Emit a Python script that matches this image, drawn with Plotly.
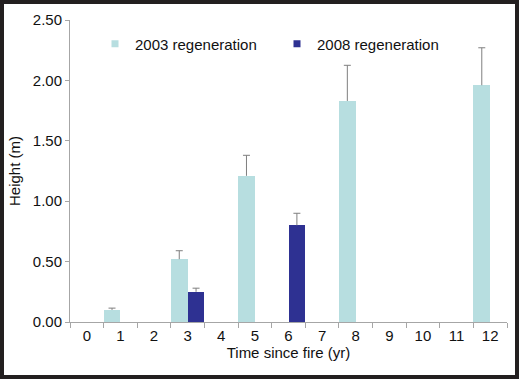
import plotly.graph_objects as go

years = [str(i) for i in range(13)]
h2003 = [None, 0.10, None, 0.52, None, 1.21, None, None, 1.83, None, None, None, 1.96]
e2003 = [None, 0.015, None, 0.07, None, 0.17, None, None, 0.295, None, None, None, 0.31]
h2008 = [None, None, None, 0.25, None, None, 0.80, None, None, None, None, None, None]
e2008 = [None, None, None, 0.03, None, None, 0.10, None, None, None, None, None, None]
ytick_vals = [0, 0.5, 1.0, 1.5, 2.0, 2.5]

c2003 = "#b7dee0"
c2008 = "#2e3192"
font = "Liberation Sans, Arial, sans-serif"
axis_col = "#a6a6a6"
err_col = "#7f7f7f"


def tops(vals, errs):
    return [v + e if v is not None else None for v, e in zip(vals, errs)]


fig = go.Figure()
fig.add_trace(go.Bar(x=years, y=h2003, marker=dict(color=c2003, line=dict(width=0)),
                     showlegend=False, name="2003 regeneration"))
fig.add_trace(go.Bar(x=years, y=h2008, marker=dict(color=c2008, line=dict(width=0)),
                     showlegend=False, name="2008 regeneration"))
# upper error bars (line from bar top up to a small cap)
for vals, errs, nm in [(h2003, e2003, "2003"), (h2008, e2008, "2008")]:
    fig.add_trace(go.Scatter(
        x=years, y=tops(vals, errs), mode="markers", showlegend=False, hoverinfo="skip",
        alignmentgroup="err", offsetgroup=nm,
        marker=dict(symbol="line-ew", size=5, color=err_col, line=dict(width=1, color=err_col)),
        error_y=dict(type="data", symmetric=False, array=[0] * 13, arrayminus=errs,
                     color=err_col, thickness=1, width=0),
        name=nm + " error"))
# legend entries
fig.add_trace(go.Scatter(x=[None], y=[None], mode="markers", name="2003 regeneration",
                         alignmentgroup="leg", offsetgroup="l1",
                         marker=dict(symbol="square", size=7, color=c2003), legend="legend"))
fig.add_trace(go.Scatter(x=[None], y=[None], mode="markers", name="2008 regeneration",
                         alignmentgroup="leg2", offsetgroup="l2",
                         marker=dict(symbol="square", size=7, color=c2008), legend="legend2"))

fig.update_layout(
    width=519, height=379,
    margin=dict(l=70, r=12, t=20, b=57),
    paper_bgcolor="#231f20", plot_bgcolor="white",
    barmode="group", bargap=0, bargroupgap=0,
    scattermode="group", scattergap=0,
    font=dict(family=font, size=15, color="#111111"),
    legend=dict(x=(95 - 70) / 437, y=(322 - 44) / 302, xanchor="left", yanchor="middle",
                bgcolor="rgba(0,0,0,0)", font=dict(size=15), borderwidth=0),
    legend2=dict(x=(277 - 70) / 437, y=(322 - 44) / 302, xanchor="left", yanchor="middle",
                 bgcolor="rgba(0,0,0,0)", font=dict(size=15), borderwidth=0),
    xaxis=dict(type="category", categoryorder="array", categoryarray=years, range=[-0.5, 12.5],
               showline=True, linecolor=axis_col, linewidth=1, ticks="outside", tickson="boundaries",
               ticklen=5, tickcolor=axis_col, showgrid=False, zeroline=False,
               title=dict(text="Time since fire (yr)", font=dict(size=15), standoff=4),
               tickfont=dict(size=15)),
    yaxis=dict(range=[0, 2.5], tickvals=ytick_vals, tickformat=".2f",
               showline=True, linecolor=axis_col, linewidth=1, ticks="outside", ticklen=4,
               tickcolor=axis_col, showgrid=False, zeroline=False,
               title=dict(text="Height (m)", font=dict(size=15), standoff=8),
               tickfont=dict(size=15)),
    shapes=[dict(type="rect", xref="paper", yref="paper", layer="below",
                 x0=(4 - 70) / 437, x1=(515 - 70) / 437, y0=(322 - 375) / 302, y1=(322 - 4) / 302,
                 fillcolor="white", line=dict(width=0))],
)

fig.write_html("out.html", config={"displayModeBar": False},
               post_script="document.body.style.margin='0';")
